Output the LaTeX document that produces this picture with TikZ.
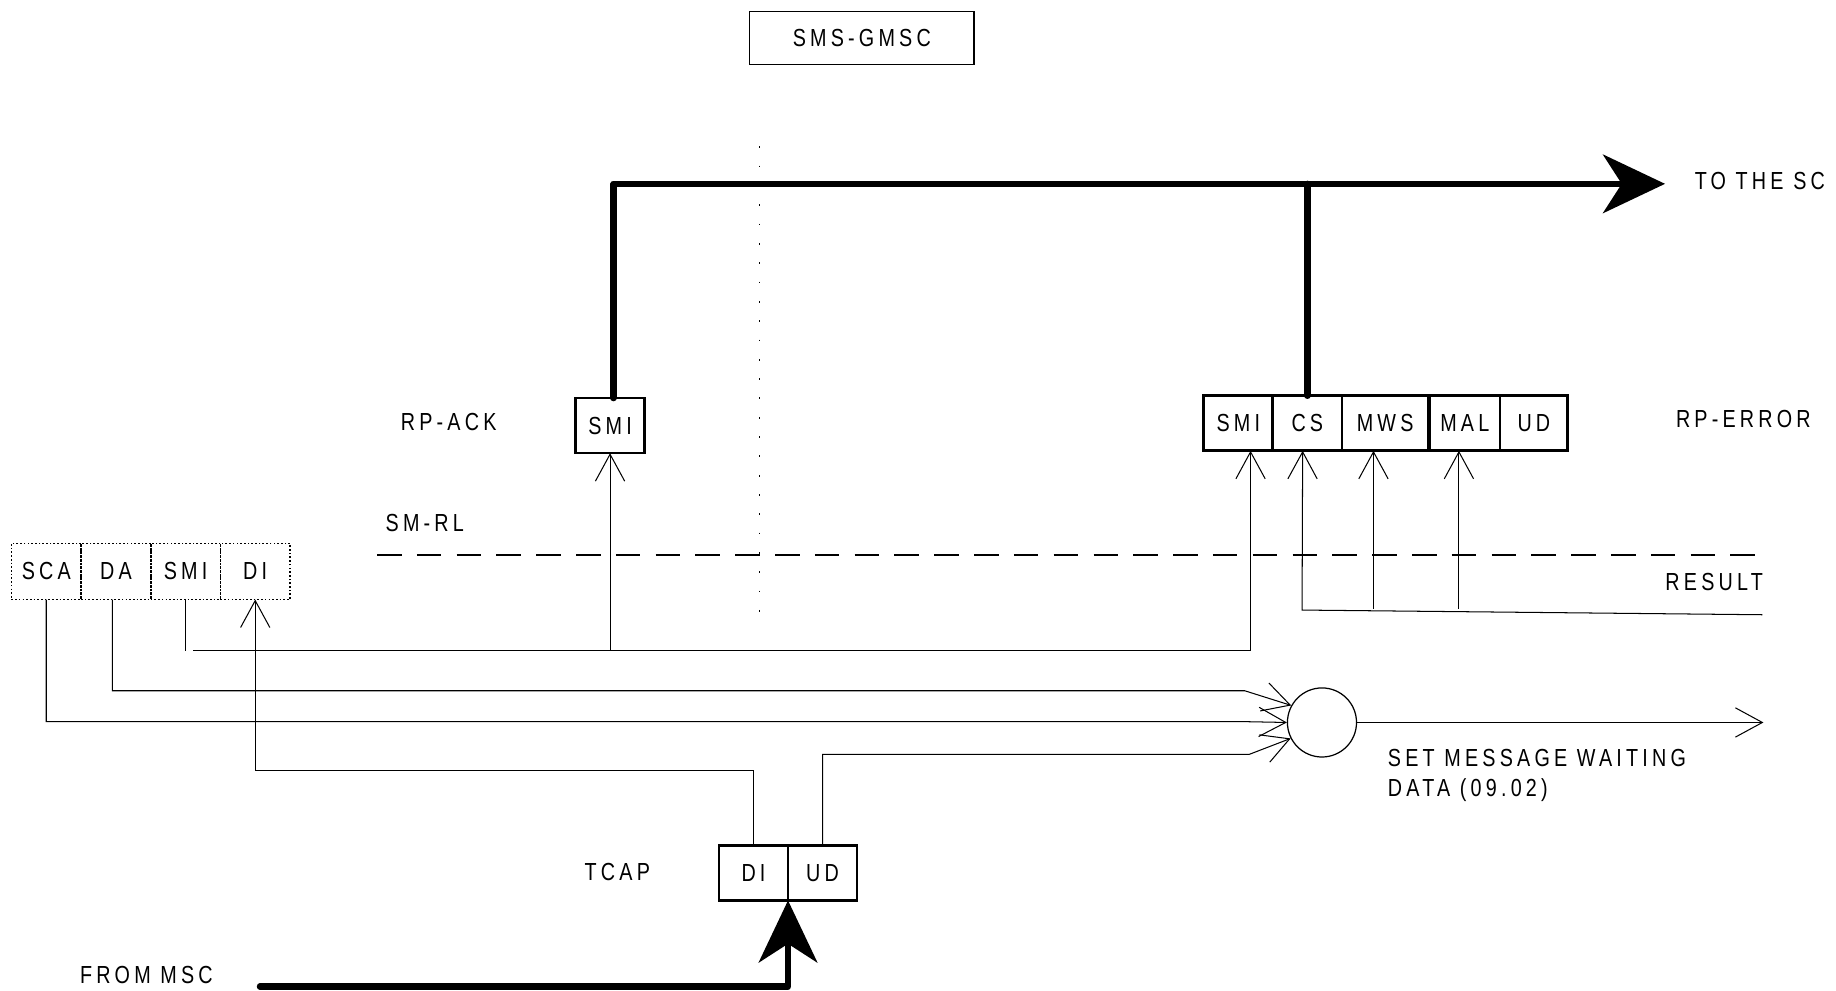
\documentclass[tikz,border=0pt]{standalone}
\usepackage{fontspec}
\setmainfont{Liberation Sans}[FakeStretch=0.8,LetterSpace=17]
\usetikzlibrary{arrows.meta,positioning}

\begin{document}
\begin{tikzpicture}[x=0.02cm,y=-0.02cm,
  every node/.style={font=\fontsize{12}{14.7}\selectfont,inner sep=0pt},
  fld/.style={draw,line width=1.3pt,outer sep=0pt,minimum width=1.18cm,minimum height=0.94cm},
  dfld/.style={draw,densely dotted,line width=0.8pt,outer sep=0pt,minimum width=1.19cm,minimum height=0.96cm},
  flow/.style={line width=0.5pt},
  flowarr/.style={flow,-{Straight Barb[length=0.46cm,width=0.5cm]}},
  bus/.style={line width=3.1pt,line join=round,line cap=round},
  busarr/.style={bus,-{Stealth[length=1.06cm,width=1.0cm,inset=0.32cm]}}]
  \useasboundingbox (0,0) rectangle (1568,846);
  % entity at the top
  \node[draw,line width=0.7pt,minimum width=3.84cm,minimum height=0.9cm] (gmsc) at (736,32.5) {SMS-GMSC\hspace{0.36cm}};
  % layer lines
  \draw[line width=0.5pt,dash pattern=on 0.03cm off 0.3cm] (649,125) -- (649,527);
  \draw[line width=0.6pt,dash pattern=on 0.42cm off 0.26cm] (322,474) -- (1505,474);
  % labels
  \node[anchor=west] (rpack) at (342,360) {RP-ACK};
  \node[anchor=west] (smrl) at (329,447) {SM-RL};
  \node[anchor=west] (rperr) at (1431,358) {RP-ERROR};
  \node[anchor=west] (result) at (1422,497) {RESULT};
  \node[anchor=west] (tosc) at (1447,155) {TO THE SC};
  \node[anchor=west] (tcap) at (499,745) {TCAP};
  \node[anchor=west] (frommsc) at (68,833) {FROM MSC};
  \node[anchor=north west,align=left] (smwd) at (1185,639.5) {SET MESSAGE WAITING\\DATA (09.02)};
  % rp-ack and rp-error fields
  \node[fld] (ack) at (521,363.5) {SMI};
  \node[fld] (esmi) at (1057.5,361.5) {SMI};
  \node[fld,right=0pt of esmi] (ecs) {CS};
  \node[fld,minimum width=1.48cm,right=0pt of ecs] (emws) {MWS\hspace{0.2cm}};
  \node[fld,minimum width=1.2cm,right=0.02cm of emws] (emal) {MAL};
  \node[fld,minimum width=1.16cm,right=0pt of emal] (eud) {UD};
  % fields of the incoming message
  \node[dfld] (sca) at (39.5,488) {SCA};
  \node[dfld,right=0pt of sca] (da) {DA};
  \node[dfld,right=0pt of da] (lsmi) {SMI};
  \node[dfld,right=0pt of lsmi] (ldi) {DI};
  % tcap fields
  \node[fld] (tdi) at (643.5,745.5) {DI};
  \node[fld,right=0pt of tdi] (tud) {UD};
  % set message waiting data
  \node[draw,circle,line width=0.6pt,minimum size=1.18cm] (mwd) at (1129,617) {};
  % heavy paths
  \coordinate (sctip) at (1422,157);
  \coordinate (msctail) at (222,842.6);
  \draw[busarr] ([xshift=0.06cm]ack.north) |- (sctip);
  \draw[bus] (ecs.north) -- (ecs.north |- sctip);
  \draw[busarr] (msctail) -| (tdi.south east);
  % smi to rp-ack / rp-error
  \coordinate (smibus) at (165,555.7);
  \draw[flow] (lsmi.south) -- (lsmi.south |- smibus);
  \draw[flowarr] (smibus) -| ([xshift=0.21cm]esmi.south);
  \draw[flowarr] (ack.south |- smibus) -- (ack.south);
  % result into rp-error
  \coordinate (resend) at (1505,525);
  \draw[flowarr] (resend) -- (1112,521) -- ([xshift=-0.08cm]ecs.south);
  \draw[flowarr] ([xshift=-0.2cm]emws.south |- 0,520) -- ([xshift=-0.2cm]emws.south);
  \draw[flowarr] ([xshift=-0.1cm]emal.south |- 0,520) -- ([xshift=-0.1cm]emal.south);
  % into the circle
  \draw[flowarr] ([xshift=-0.06cm]da.south) |- (1063,589.9) -- (mwd.151);
  \draw[flowarr] (sca.south) |- (1063,616.3) -- (mwd.180);
  \draw[flowarr] (tud.north) |- (1067,644.2) -- (mwd.207);
  \draw[flowarr] (tdi.north) -- ++(0,-64.4) -| (ldi.south);
  \draw[flowarr] (mwd.east) -- ++(347,0);
\end{tikzpicture}
\end{document}
